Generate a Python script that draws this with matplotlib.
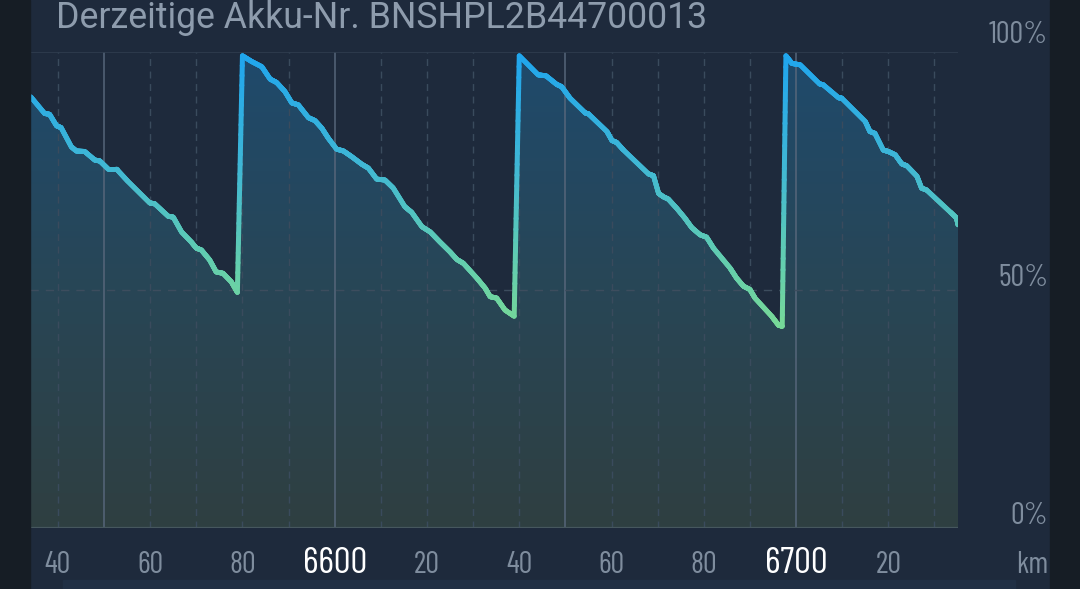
import numpy as np
import matplotlib
matplotlib.use('Agg')
import matplotlib.pyplot as plt
from matplotlib.collections import LineCollection
from matplotlib.colors import LinearSegmentedColormap
from matplotlib.patches import Rectangle
from matplotlib.transforms import blended_transform_factory, offset_copy

# Kilometerstand und Ladezustand (%)
km = np.array([6534.1, 6537.1, 6538.2, 6539.7, 6540.7, 6542.9, 6544.0, 6545.8, 6548.0, 6549.1,
               6550.9, 6552.7, 6555.2, 6559.9, 6561.0, 6563.9, 6565.0, 6566.8, 6568.9, 6570.0,
               6571.1, 6572.9, 6574.3, 6575.8, 6577.6, 6578.9,
               6580.0, 6582.0, 6584.2, 6586.0, 6587.4, 6589.2, 6590.7, 6592.1, 6594.3, 6595.7,
               6597.2, 6598.6, 6600.4, 6601.9, 6603.7, 6605.9, 6607.3, 6609.1, 6610.9, 6612.7,
               6615.2, 6616.7, 6618.9, 6620.7, 6622.8, 6625.0, 6626.5, 6627.9, 6630.8, 6632.6,
               6633.7, 6635.1, 6636.9, 6638.9,
               6640.0, 6644.1, 6645.8, 6648.1, 6649.2, 6651.0, 6654.3, 6655.0, 6659.0, 6660.1,
               6661.1, 6662.6, 6668.0, 6669.1, 6670.2, 6671.2, 6672.3, 6674.1, 6675.9, 6677.4,
               6679.2, 6680.6, 6682.1, 6685.7, 6687.1, 6688.6, 6690.0, 6691.1, 6694.7, 6696.2,
               6697.0,
               6697.8, 6699.1, 6700.9, 6705.1, 6705.9, 6709.2, 6709.9, 6715.0, 6716.0, 6717.1,
               6718.9, 6720.0, 6721.5, 6722.9, 6724.0, 6726.2, 6727.2, 6728.3, 6733.4, 6734.8,
               6735.1])
charge = np.array([90.6, 87.1, 86.9, 84.5, 84.1, 80.1, 79.2, 79.1, 77.3, 77.1,
                   75.4, 75.4, 72.8, 68.3, 68.1, 65.5, 65.3, 62.2, 60.1, 58.8,
                   58.4, 56.3, 53.8, 53.5, 51.7, 49.5,
                   99.2, 98.0, 96.9, 94.3, 93.6, 91.7, 89.3, 88.9, 86.2, 85.6,
                   84.0, 81.9, 79.6, 79.2, 78.0, 76.4, 75.6, 73.3, 73.1, 71.4,
                   67.5, 66.3, 63.3, 62.2, 60.1, 58.0, 56.4, 55.6, 52.5, 50.4,
                   48.6, 48.3, 45.8, 44.5,
                   99.2, 95.2, 95.0, 93.2, 92.7, 90.3, 87.2, 87.0, 83.3, 81.4,
                   81.0, 79.4, 74.4, 74.0, 70.3, 69.6, 69.1, 67.2, 65.1, 63.1,
                   61.6, 61.1, 58.8, 54.6, 52.5, 50.8, 50.1, 48.3, 44.5, 42.6,
                   42.4,
                   99.2, 97.6, 97.3, 93.3, 93.1, 90.4, 90.3, 85.4, 83.3, 82.9,
                   79.4, 79.1, 78.4, 76.5, 76.1, 73.9, 71.4, 71.0, 66.4, 65.1,
                   63.7])

tick_km = [6540, 6560, 6580, 6600, 6620, 6640, 6660, 6680, 6700, 6720]
tick_labels = ['40', '60', '80', '6600', '20', '40', '60', '80', '6700', '20']
pct_ticks = [0, 50, 100]
pct_labels = ['0%', '50%', '100%']
title = 'Derzeitige Akku-Nr. BNSHPL2B44700013'

BG = '#1e2a3c'
GREY = '#7f8d9e'
NARROW = ['Barlow Condensed', 'Roboto Condensed', 'IBM Plex Sans Condensed', 'DejaVu Sans']

fig = plt.figure(figsize=(10.8, 5.89), dpi=100, facecolor=BG)
W, H = 1080, 589

# dunkle Randstreifen
fig.patches.append(Rectangle((0, 0), 30 / W, 1, transform=fig.transFigure, color='#161d25', zorder=0))
fig.patches.append(Rectangle((1050 / W, 0), 30 / W, 1, transform=fig.transFigure, color='#161d25', zorder=0))
fig.patches.append(Rectangle((63 / W, 0), 952 / W, 9 / H, transform=fig.transFigure, color='#213045', zorder=0))

ax = fig.add_axes([30 / W, 61 / H, 928 / W, 476 / H])
x0, x1 = 6533.95, 6735.1

# Verlaufsfüllung unter der Kurve
fill_cmap = LinearSegmentedColormap.from_list('fill', ['#2f3f41', '#284656', '#1f4a6c'])
poly = ax.fill_between(km, charge, 0, facecolor='none', edgecolor='none')
grad = np.linspace(0, 1, 256).reshape(-1, 1)
im = ax.imshow(grad, extent=[x0, x1, 0, 100], origin='lower', aspect='auto',
               cmap=fill_cmap, zorder=1)
im.set_clip_path(poly.get_paths()[0], transform=ax.transData)

# Gitter
for k in range(6540, 6731, 10):
    if k % 50 == 0:
        ax.axvline(k, color='#56667a', lw=1.1, zorder=3)
    else:
        ax.axvline(k, color='#3a4b5d', lw=1, dashes=(5, 4), zorder=3)
ax.axhline(50, color='#3d4d5e', lw=1, dashes=(6, 5), zorder=3)
ax.axhline(100, color='#2f3d4f', lw=1.2, zorder=3)
ax.axhline(0, color='#46575e', lw=1.6, zorder=3)

# Linie mit Farbverlauf (Segmente nur zur Einfärbung unterteilt)
line_cmap = LinearSegmentedColormap.from_list(
    'line', [(0.0, '#78d997'), (0.25, '#62cdb0'), (0.6, '#3fb7d6'), (1.0, '#1fa5ee')])
xs, ys = [], []
for i in range(len(km) - 1):
    xs.append(np.linspace(km[i], km[i + 1], 25)[:-1])
    ys.append(np.linspace(charge[i], charge[i + 1], 25)[:-1])
xs = np.concatenate(xs + [km[-1:]])
ys = np.concatenate(ys + [charge[-1:]])
pts = np.column_stack([xs, ys]).reshape(-1, 1, 2)
segs = np.concatenate([pts[:-1], pts[1:]], axis=1)
mid = (ys[:-1] + ys[1:]) / 2
lc = LineCollection(segs, cmap=line_cmap, norm=plt.Normalize(42, 100), lw=3.6,
                    capstyle='round', joinstyle='round', zorder=5)
lc.set_array(mid)
ax.add_collection(lc)

ax.set_xlim(x0, x1)
ax.set_ylim(0, 100)
ax.set_axis_off()

# x-Beschriftung
bx = blended_transform_factory(ax.transData, ax.transAxes)
for k, lab in zip(tick_km, tick_labels):
    big = len(lab) == 4
    ax.text(k, -45 / 476, lab, transform=bx, ha='center', va='baseline',
            family=NARROW, fontsize=27 if big else 22,
            color='white' if big else GREY)
fig.text(1048 / W, 1 - 573 / H, 'km', ha='right', va='baseline',
         family=NARROW, fontsize=22, color=GREY)

# y-Beschriftung rechts
by = blended_transform_factory(fig.transFigure, ax.transData)
for v, lab in zip(pct_ticks, pct_labels):
    off = 9 if v == 100 else 4
    tr = offset_copy(by, fig=fig, x=0, y=off * 72 / 100, units='points')
    ax.text(1048 / W, v, lab, transform=tr, ha='right', va='baseline',
            family=NARROW, fontsize=22, color=GREY)

fig.text(56 / W, 1 - 28.5 / H, title, ha='left', va='baseline',
         family=['Roboto', 'DejaVu Sans'], fontsize=25.7, color='#8e9cad')

fig.savefig('out.png', dpi=100, facecolor=BG)
